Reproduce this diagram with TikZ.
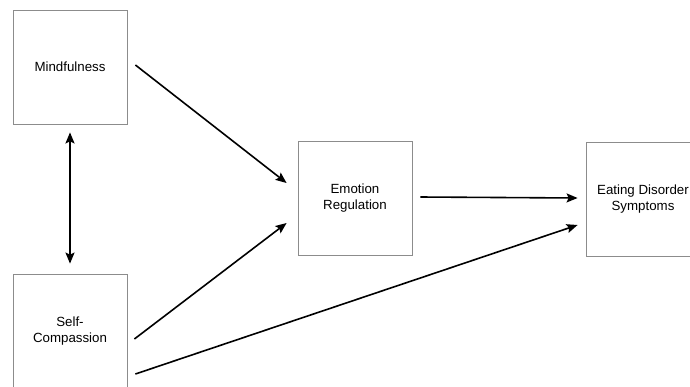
\documentclass[tikz,border=0pt]{standalone}
\usepackage{fontspec}
\setmainfont{Liberation Sans}
\usetikzlibrary{arrows.meta}
\tikzset{
  varbox/.style={draw=black!45, line width=0.8pt, minimum width=114pt, minimum height=114pt,
    inner sep=0pt, align=center, font=\fontsize{13.3}{16}\selectfont},
  path arrow/.style={line width=1.6pt, -{Stealth[length=11pt,width=9pt,inset=2pt]}},
  cov arrow/.style={line width=1.6pt, {Stealth[length=11pt,width=9pt,inset=2pt]}-{Stealth[length=11pt,width=9pt,inset=2pt]}}
}
\begin{document}
\begin{tikzpicture}[x=1pt, y=-1pt]
    \useasboundingbox (0,0) rectangle (690,386);
    \clip (0,0) rectangle (690,386);

    % variables
    \node[varbox] (mind) at (70, 67) {Mindfulness};
    \node[varbox] (sc) at (70, 331) {Self-\\Compassion};
    \node[varbox] (er) at (355, 198) {Emotion\\Regulation};
    \node[varbox] (eds) at (643, 199) {Eating Disorder\\Symptoms};

    % paths
    \draw[cov arrow] ([shift={(0,8)}]mind.south) -- ([shift={(0,-10)}]sc.north);
    \draw[path arrow] ([shift={(8,-2)}]mind.east) -- ([shift={(-11,-15)}]er.west);
    \draw[path arrow] ([shift={(7,8)}]sc.east) -- ([shift={(-11,25)}]er.west);
    \draw[path arrow] ([shift={(8,43)}]sc.east) -- ([shift={(-8,26)}]eds.west);
    \draw[path arrow] ([shift={(8,-1)}]er.east) -- ([shift={(-8,-1)}]eds.west);

\end{tikzpicture}
\end{document}
